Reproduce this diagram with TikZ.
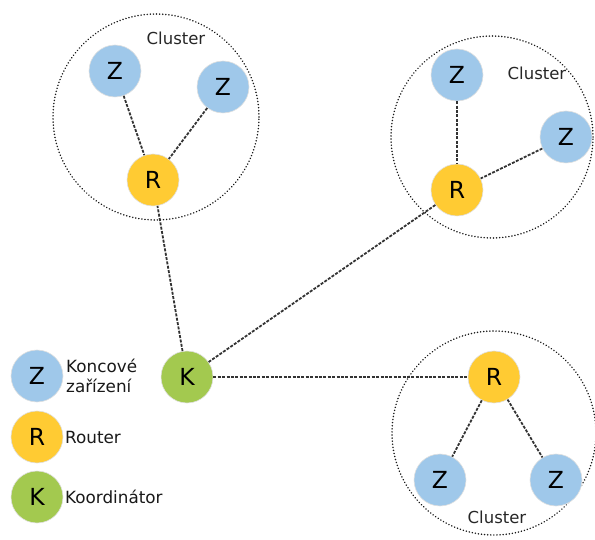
\documentclass[tikz,border=0pt]{standalone}
\usepackage{fontspec}
\setmainfont{DejaVu Sans}
\begin{document}
\begin{tikzpicture}[x=1pt,y=-1pt,
  dev/.style={circle,minimum size=52pt,inner sep=0pt,draw=black!12,line width=0.6pt,font=\fontsize{23.5}{24}\selectfont},
  zdev/.style={dev,fill=zblue},
  rdev/.style={dev,fill=ryellow},
  kdev/.style={dev,fill=kgreen},
  link/.style={draw=black!80,line width=1.8pt,dash pattern=on 3pt off 1.4pt},
  cluster/.style={circle,draw=black!90,line width=1.6pt,dash pattern=on 0.1pt off 3pt,line cap=round,inner sep=0pt},
  lbl/.style={font=\fontsize{16.5}{18}\selectfont,text=black!85},
  leg/.style={font=\fontsize{16.8}{20}\selectfont,anchor=west,align=left,text=black!90,inner sep=0pt}
]
\definecolor{zblue}{HTML}{9FC8EA}
\definecolor{ryellow}{HTML}{FFCB33}
\definecolor{kgreen}{HTML}{A3C94F}
\useasboundingbox (0,0) rectangle (595,540);

% clusters
\node[cluster,minimum size=206pt] (c1) at (156,117) {};
\node[cluster,minimum size=202pt] (c2) at (492,137) {};
\node[cluster,minimum size=204pt] (c3) at (494,433) {};

\node[lbl] (l1) at (176,38) {Cluster};
\node[lbl] (l2) at (537,73) {Cluster};
\node[lbl] (l3) at (497,517) {Cluster};

% nodes
\node[zdev] (z11) at (115,71) {Z};
\node[zdev] (z12) at (223,87) {Z};
\node[rdev] (r1) at (153,180) {R};

\node[zdev] (z21) at (457,75) {Z};
\node[zdev] (z22) at (566,137) {Z};
\node[rdev] (r2) at (457,190) {R};

\node[rdev] (r3) at (494,377) {R};
\node[zdev] (z31) at (440,480) {Z};
\node[zdev] (z32) at (556,480) {Z};

\node[kdev] (k) at (187,377) {K};

% links
\draw[link] (z11) -- (r1);
\draw[link] (z12) -- (r1);
\draw[link] (z21) -- (r2);
\draw[link] (z22) -- (r2);
\draw[link] (r3) -- (z31);
\draw[link] (r3) -- (z32);
\draw[link] (k) -- (r1);
\draw[link] (k) -- (r2);
\draw[link] (k) -- (r3);

% legend
\node[zdev] (lz) at (37,376) {Z};
\node[rdev] (lr) at (37,437) {R};
\node[kdev] (lk) at (37,497) {K};
\node[leg] (tz) at (66,376) {Koncové\\zařízení};
\node[leg] (tr) at (65,437) {Router};
\node[leg] (tk) at (65,497) {Koordinátor};
\end{tikzpicture}
\end{document}
